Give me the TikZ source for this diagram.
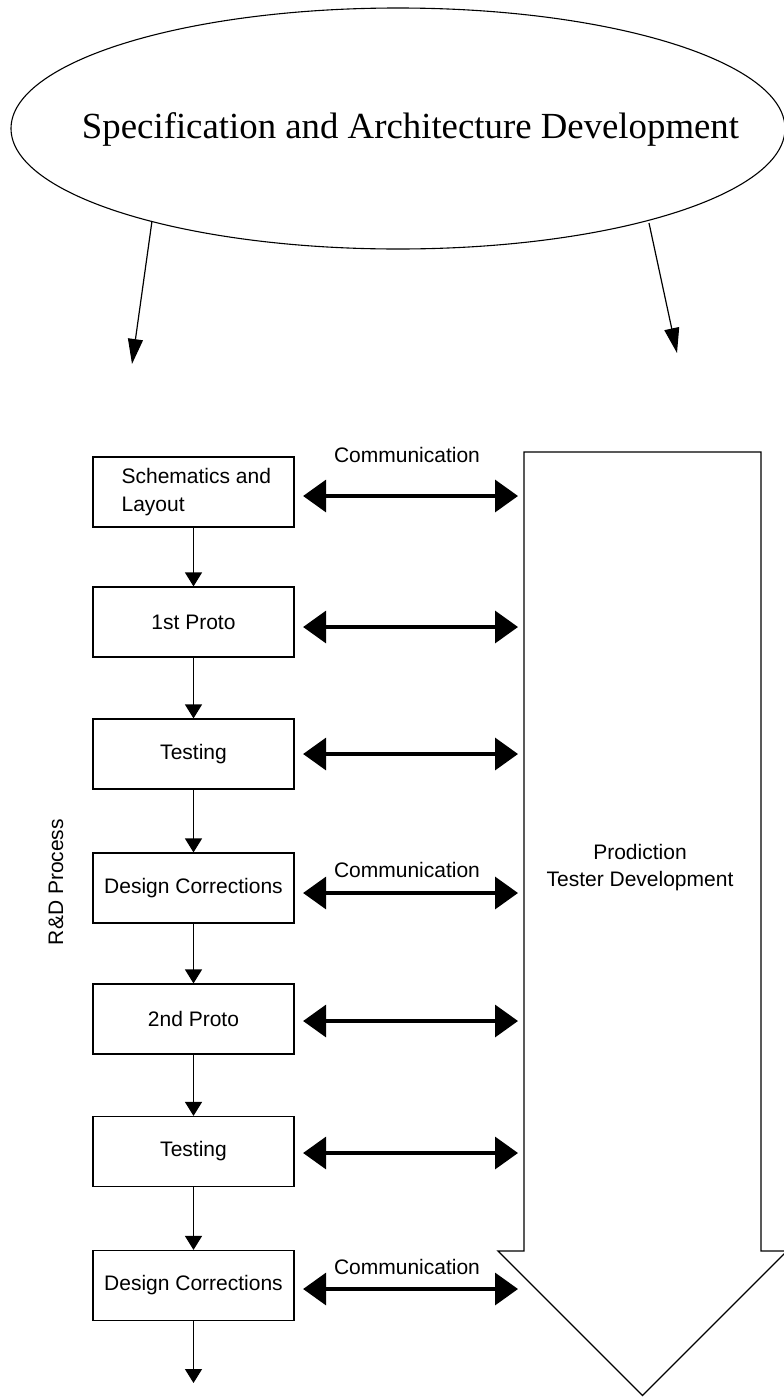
\documentclass[tikz,border=0pt]{standalone}
\usepackage{fontspec}
\setmainfont{Liberation Sans}
\newfontfamily\titlefont{Liberation Serif}
\usetikzlibrary{arrows.meta,shapes.geometric}

\begin{document}
\begin{tikzpicture}[x=1pt,y=-1pt,line join=miter,
  stage/.style={draw,line width=1.2pt,minimum width=201pt,minimum height=70pt,
    inner sep=0pt,font=\fontsize{21}{28}\selectfont},
  lbl/.style={font=\fontsize{21}{27}\selectfont,inner sep=0pt},
  flow/.style={line width=1.3pt,-{Triangle[length=14pt,width=17pt]}},
  feed/.style={line width=1.2pt,-{Triangle[length=25pt,width=15pt]}},
  talk/.style={line width=3.5pt,
    {Triangle[length=23pt,width=32pt]}-{Triangle[length=23pt,width=32pt]}}]

\useasboundingbox (0,0) rectangle (784,1398);
\clip (0,0) rectangle (784,1398);
\fill[white] (0,0) rectangle (784,1398);

% specification ellipse and its two outputs
\node[ellipse,draw,line width=1.1pt,minimum width=774pt,minimum height=241pt,
  inner sep=0pt] (spec) at (398,128.5) {};
\node[font=\titlefont\fontsize{36.8}{40}\selectfont,inner sep=0pt,anchor=base]
  (spectitle) at (410.5,138) {Specification and Architecture Development};
\coordinate (fromL) at (152,221);
\coordinate (toL) at (132,364);
\coordinate (fromR) at (649,223);
\coordinate (toR) at (677,353);
\draw[feed] (fromL) -- (toL);
\draw[feed] (fromR) -- (toR);

% R&D process chain
\node[stage] (b1) at (193.5,492) {};
\node[lbl,align=left,anchor=west,font=\fontsize{21}{28}\selectfont]
  (b1text) at ([xshift=29pt]b1.west) {Schematics and\\Layout};
\node[stage] (b2) at (193.5,622) {1st Proto};
\node[stage] (b3) at (193.5,754) {Testing};
\node[stage] (b4) at (193.5,888) {Design Corrections};
\node[stage] (b5) at (193.5,1019) {2nd Proto};
\node[stage] (b6) at (193.5,1151.5) {Testing};
\node[stage] (b7) at (193.5,1285.5) {Design Corrections};
\coordinate (chainEnd) at (193.5,1383);

\draw[flow] (b1) -- (b2);
\draw[flow] (b2) -- (b3);
\draw[flow] (b3) -- (b4);
\draw[flow] (b4) -- (b5);
\draw[flow] (b5) -- (b6);
\draw[flow] (b6) -- (b7);
\draw[flow] (b7) -- (chainEnd);

\node[lbl,rotate=90,anchor=base] (rnd) at (63,882) {R\&D Process};

% production tester development block arrow
\coordinate (shaft) at (524,452);
\draw[line width=1.3pt] (shaft) -- (761,452) -- (761,1251) -- (787,1251)
  -- (642.5,1395.5) -- (498,1251) -- (524,1251) -- cycle;
\node[lbl,align=center] (tester) at (640,868) {Prodiction\\Tester Development};

% communication links
\draw[talk] ([xshift=8.5pt,yshift=-4pt]b1.east) -- ([xshift=-6pt,yshift=-4pt]b1.east -| shaft);
\draw[talk] ([xshift=8.5pt,yshift=-5pt]b2.east) -- ([xshift=-6pt,yshift=-5pt]b2.east -| shaft);
\draw[talk] ([xshift=8.5pt]b3.east) -- ([xshift=-6pt]b3.east -| shaft);
\draw[talk] ([xshift=8.5pt,yshift=-5pt]b4.east) -- ([xshift=-6pt,yshift=-5pt]b4.east -| shaft);
\draw[talk] ([xshift=8.5pt,yshift=-2pt]b5.east) -- ([xshift=-6pt,yshift=-2pt]b5.east -| shaft);
\draw[talk] ([xshift=8.5pt,yshift=-1.5pt]b6.east) -- ([xshift=-6pt,yshift=-1.5pt]b6.east -| shaft);
\draw[talk] ([xshift=8.5pt,yshift=-3.5pt]b7.east) -- ([xshift=-6pt,yshift=-3.5pt]b7.east -| shaft);

\node[lbl] (c1) at (407,455) {Communication};
\node[lbl] (c2) at (407,870) {Communication};
\node[lbl] (c3) at (407,1267) {Communication};
\end{tikzpicture}
\end{document}
